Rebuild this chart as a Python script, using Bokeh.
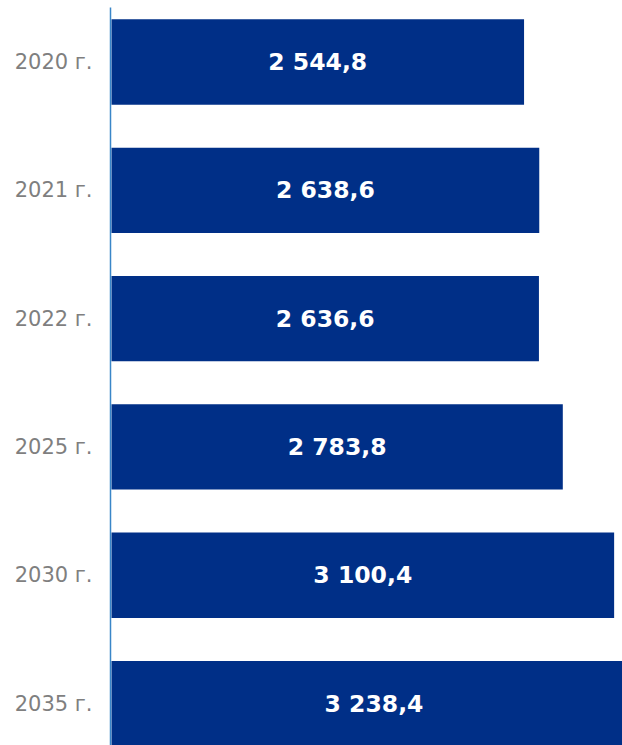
from bokeh.plotting import figure
from bokeh.models import Range1d, FixedTicker, ColumnDataSource
from bokeh.core.properties import value
from bokeh.embed import file_html
from bokeh.resources import INLINE

categories = ["2020 г.", "2021 г.", "2022 г.", "2025 г.", "2030 г.", "2035 г."]
values = [2544.8, 2638.6, 2636.6, 2783.8, 3100.4, 3238.4]

def fmt(v):
    return f"{v:,.1f}".replace(",", " ").replace(".", ",")

pos = list(range(len(categories)))
src = ColumnDataSource(dict(
    y=pos,
    v=values,
    half=[v / 2 for v in values],
    lab=[fmt(v) for v in values],
))

p = figure(width=622, height=745, output_backend="svg", toolbar_location=None,
           x_range=Range1d(-6, 3152), y_range=Range1d(5.327, -0.425),
           min_border_left=110, min_border_right=0, min_border_top=7, min_border_bottom=0)
p.outline_line_color = None
p.xgrid.visible = False
p.ygrid.visible = False
p.xaxis.visible = False

p.hbar(y="y", left=0, right="v", height=0.665, source=src,
       fill_color="#002F87", line_color=None)
p.text(x="half", y="y", text="lab", source=src, text_color="white",
       text_font=value("DejaVu Sans"), text_font_style="bold", text_font_size="23.5px",
       text_align="center", text_baseline="middle")

ya = p.yaxis[0]
ya.ticker = FixedTicker(ticks=pos)
ya.major_label_overrides = {i: c for i, c in enumerate(categories)}
ya.major_tick_line_color = None
ya.minor_tick_line_color = None
ya.major_tick_out = 0
ya.major_tick_in = 0
ya.major_label_standoff = 18
ya.axis_line_color = "#3A86C8"
ya.axis_line_width = 1.5
ya.major_label_text_color = "#7F7F7F"
ya.major_label_text_font = "DejaVu Sans"
ya.major_label_text_font_size = "21px"

open("out.html", "w").write(file_html(p, INLINE))
